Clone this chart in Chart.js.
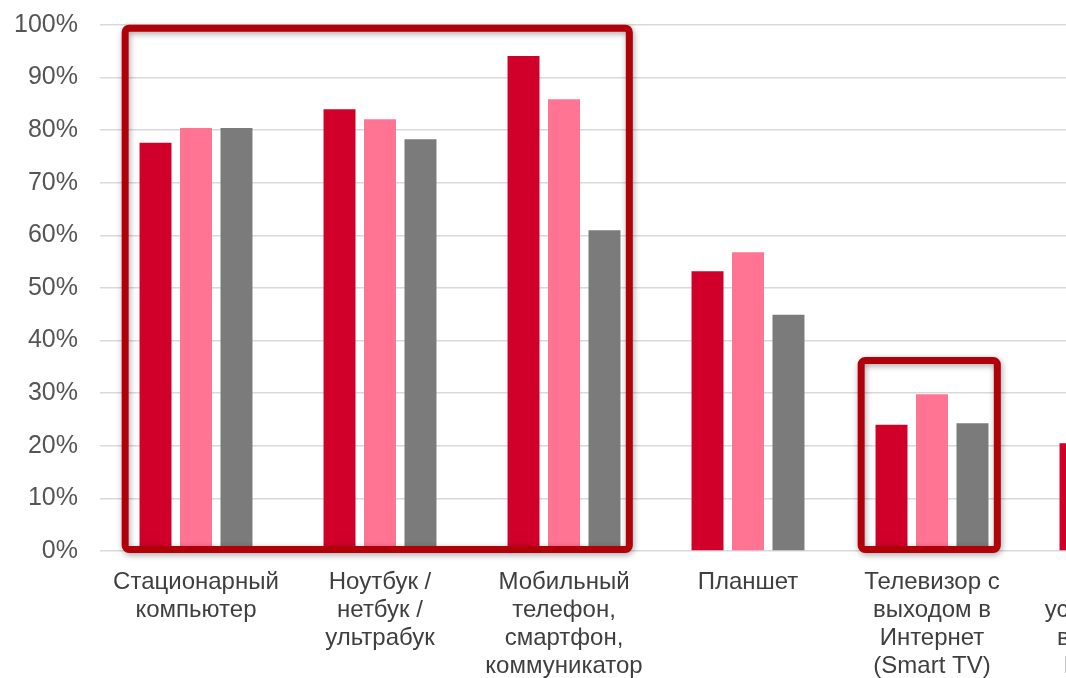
<!DOCTYPE html>
<html>
<head>
<meta charset="utf-8">
<script src="https://cdn.jsdelivr.net/npm/chart.js@4/dist/chart.umd.min.js"></script>
<style>
  html, body { margin: 0; padding: 0; background: #fff; overflow: hidden; }
  #wrap { width: 1210px; height: 678px; }
</style>
</head>
<body>
<div id="wrap"><canvas id="devicesChart" width="1210" height="678"></canvas></div>
<script>
const categories = [
  ['Стационарный', 'компьютер'],
  ['Ноутбук /', 'нетбук /', 'ультрабук'],
  ['Мобильный', 'телефон,', 'смартфон,', 'коммуникатор'],
  ['Планшет'],
  ['Телевизор с', 'выходом в', 'Интернет', '(Smart TV)'],
  ['Другое', 'устройство с', 'выходом в', 'Интернет']
];
const seriesRed = [77.6, 84.0, 94.1, 53.2, 24.0, 20.5];
const seriesPink = [80.4, 82.1, 85.9, 56.8, 29.8, 23.0];
const seriesGray = [80.4, 78.3, 61.0, 44.9, 24.3, 17.0];
const yTicks = [0, 10, 20, 30, 40, 50, 60, 70, 80, 90, 100];
// highlighted groups: first/last category index, top of frame in %
const frames = [
  { from: 0, to: 2, top: 99.4 },
  { from: 4, to: 4, top: 36.2 }
];

const devicesChart = document.getElementById('devicesChart');

const framePlugin = {
  id: 'frames',
  afterDatasetsDraw(chart) {
    const ctx = chart.ctx;
    const x = chart.scales.x;
    const y = chart.scales.y;
    const catW = x.width / categories.length;
    frames.forEach(function (f) {
      const left = x.getPixelForValue(f.from) - catW * 0.385;
      const right = x.getPixelForValue(f.to) + catW * 0.355;
      const top = y.getPixelForValue(f.top);
      const bottom = y.getPixelForValue(0.3);
      ctx.save();
      ctx.shadowColor = 'rgba(0,0,0,0.35)';
      ctx.shadowBlur = 6;
      ctx.shadowOffsetX = 1;
      ctx.shadowOffsetY = 2;
      ctx.strokeStyle = '#b0000a';
      ctx.lineWidth = 7;
      ctx.lineJoin = 'round';
      ctx.beginPath();
      ctx.roundRect(left, top, right - left, bottom - top, 4);
      ctx.stroke();
      ctx.restore();
    });
  }
};

const bars = new Chart(devicesChart, {
  type: 'bar',
  data: {
    labels: categories,
    datasets: [
      { label: 'red', data: seriesRed, backgroundColor: '#d0002a' },
      { label: 'pink', data: seriesPink, backgroundColor: '#ff7492' },
      { label: 'gray', data: seriesGray, backgroundColor: '#7b7b7b' }
    ]
  },
  options: {
    responsive: false,
    animation: false,
    categoryPercentage: 0.66,
    barPercentage: 0.79,
    layout: { padding: { left: 12, top: 25, right: 2, bottom: 0 } },
    plugins: { legend: { display: false }, tooltip: { enabled: false } },
    scales: {
      x: {
        grid: { display: false },
        border: { display: false },
        afterFit: function (scale) { scale.height = 127; },
        ticks: {
          autoSkip: false,
          maxRotation: 0,
          padding: 9,
          color: '#3f3f3f',
          font: { family: 'Liberation Sans, Arial, sans-serif', size: 24, lineHeight: 1.17 }
        }
      },
      y: {
        min: 0,
        max: 100,
        afterBuildTicks: function (scale) {
          scale.ticks = yTicks.map(function (v) { return { value: v }; });
        },
        afterFit: function (scale) {
          scale.width = 92;
          scale.paddingTop = 0;
          scale.paddingBottom = 0;
        },
        grid: { color: '#d9d9d9', lineWidth: 1.5, tickLength: 4 },
        border: { display: false },
        ticks: {
          padding: 22,
          color: '#555555',
          font: { family: 'Liberation Sans, Arial, sans-serif', size: 25 },
          callback: function (v) { return v + '%'; }
        }
      }
    }
  },
  plugins: [framePlugin]
});
</script>
</body>
</html>
